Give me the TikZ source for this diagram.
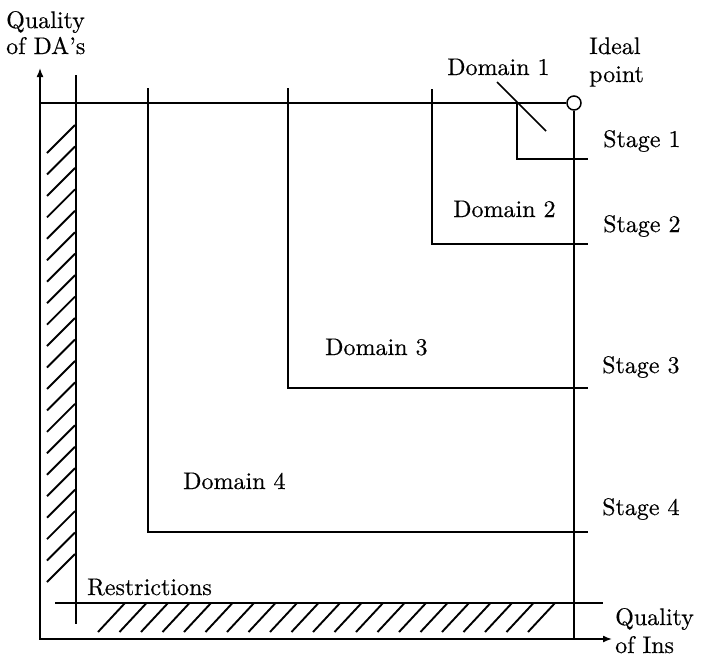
\documentclass[tikz,border=0pt]{standalone}
\usepackage{fontspec}
\setmainfont{lmroman10-regular.otf}[FakeBold=0.4]
\usetikzlibrary{arrows.meta}
\begin{document}
\begin{tikzpicture}[x=1pt,y=-1pt,
  rule/.style={line width=1.5pt},
  hatch/.style={line width=1.9pt},
  axis/.style={line width=1.5pt,{Latex[length=9pt,width=7pt]}-{Latex[length=9pt,width=7pt]}},
  lbl/.style={inner sep=0pt,anchor=base west,font=\fontsize{24}{29}\selectfont}]
\useasboundingbox (0,0) rectangle (707,657);

% axes
\draw[axis] (40,68) -- (40,639) -- (612,639);

% upper bound and the ideal point
\node[draw,circle,line width=1.5pt,minimum size=14pt,inner sep=0pt] (ideal) at (574,103) {};
\coordinate (topleft) at (40,103);
\coordinate (rightfoot) at (574,639);
\draw[rule] (topleft) -- (ideal.west);
\draw[rule] (ideal.south) -- (rightfoot);

% restriction lines
\draw[rule] (76,75) -- (76,624);
\draw[rule] (55,603) -- (603,603);

% stage boundaries
\draw[rule] (148,88) |- (588,532);
\draw[rule] (288,88) |- (588,388);
\draw[rule] (432,89) |- (588,244);
\draw[rule] (517,103) |- (588,159);

% pointer to domain 1
\draw[rule] (497,82) -- (546,131);

% hatching of the restricted zones
\foreach \i in {0,...,20}
  \draw[hatch] (47,153+21.45*\i) -- ++(28,-28);
\foreach \i in {0,...,20}
  \draw[hatch] (98+21.5*\i,632) -- ++(27,-29);

% labels
\node[lbl] (qda1) at (6,28) {Quality};
\node[lbl] (qda2) at (6,54) {of DA's};
\node[lbl] (ideal1) at (589,54) {Ideal};
\node[lbl] (ideal2) at (589,82) {point};
\node[lbl] (d1) at (447,75) {Domain 1};
\node[lbl] (d2) at (453,217) {Domain 2};
\node[lbl] (d3) at (325,355) {Domain 3};
\node[lbl] (d4) at (183,489) {Domain 4};
\node[lbl] (s1) at (603,147) {Stage 1};
\node[lbl] (s2) at (603,232) {Stage 2};
\node[lbl] (s3) at (602,373) {Stage 3};
\node[lbl] (s4) at (602,515) {Stage 4};
\node[lbl] (restr) at (87,595) {Restrictions};
\node[lbl] (qin1) at (615,625) {Quality};
\node[lbl] (qin2) at (615,653) {of Ins};
\end{tikzpicture}
\end{document}
